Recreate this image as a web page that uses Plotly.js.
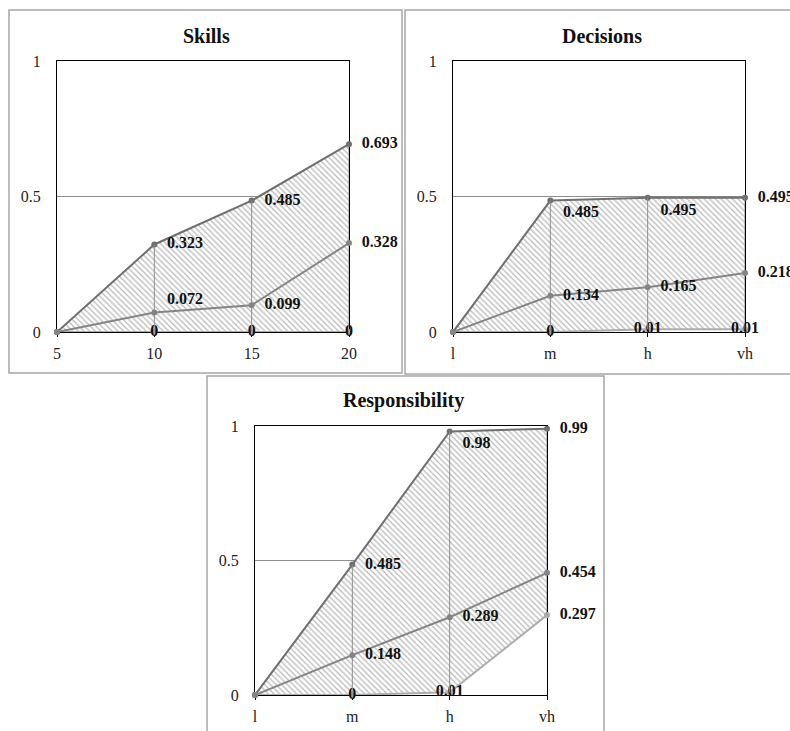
<!DOCTYPE html>
<html>
<head>
<meta charset="utf-8">
<script src="https://cdn.plot.ly/plotly-3.0.1.min.js"></script>
<style>html,body{margin:0;padding:0;background:#fff;}#chart{width:790px;height:731px;}</style>
</head>
<body>
<div id="chart"></div>
<script>
// ---- data ----
const skillsCats = ['5', '10', '15', '20'];
const levelCats = ['l', 'm', 'h', 'vh'];
const skillsUpper = [0, 0.323, 0.485, 0.693];
const skillsMiddle = [0, 0.072, 0.099, 0.328];
const skillsLower = [0, 0, 0, 0];
const decisionsUpper = [0, 0.485, 0.495, 0.495];
const decisionsMiddle = [0, 0.134, 0.165, 0.218];
const decisionsLower = [0, 0, 0.01, 0.01];
const respUpper = [0, 0.485, 0.98, 0.99];
const respMiddle = [0, 0.148, 0.289, 0.454];
const respLower = [0, 0, 0.01, 0.297];
const yTickVals = [0, 0.5, 1];
const yTickText = ['0', '0.5', '1'];
const panelTitles = ['Skills', 'Decisions', 'Responsibility'];

// ---- styles ----
const W = 790, H = 731;
const FONT = '"Liberation Serif", "Times New Roman", serif';
const C_UP = '#6f6f6f', C_MID = '#858585', C_LOW = '#adadad', C_DROP = '#8e8e8e';

const panels = [
  {cats: skillsCats, up: skillsUpper, mid: skillsMiddle, low: skillsLower, xa: 'x', ya: 'y',
   posUp: ['', 'middle right', 'middle right', 'middle right'],
   posMid: ['', 'top right', 'middle right', 'middle right'],
   posLow: ['', 'middle center', 'middle center', 'middle center'],
   plot: [57, 349, 61, 332], title: [206, 36], box: [9, 402, 10, 373]},
  {cats: levelCats, up: decisionsUpper, mid: decisionsMiddle, low: decisionsLower, xa: 'x2', ya: 'y2',
   posUp: ['', 'bottom right', 'bottom right', 'middle right'],
   posMid: ['', 'middle right', 'middle right', 'middle right'],
   posLow: ['', 'middle center', 'middle center', 'middle center'],
   plot: [453, 745, 61, 332], title: [602, 36], box: [405, 795, 10, 374]},
  {cats: levelCats, up: respUpper, mid: respMiddle, low: respLower, xa: 'x3', ya: 'y3',
   posUp: ['', 'middle right', 'bottom right', 'middle right'],
   posMid: ['', 'middle right', 'middle right', 'middle right'],
   posLow: ['', 'middle center', 'middle center', 'middle right'],
   plot: [255, 547, 426, 695], title: [404, 400], box: [207, 604, 376, 740]}
];

// labels: first point unlabeled; right-placed labels get a small leading gap
function labels(vals, pos) {
  return vals.map((v, i) => {
    if (i === 0) return '';
    const gap = /right/.test(pos[i]) ? '\u00a0\u00a0' : '';
    return gap + String(v);
  });
}
const textfont = {family: FONT, size: 16, color: '#111', weight: 'bold'};

const traces = [];
panels.forEach(p => {
  const base = {type: 'scatter', mode: 'lines+markers+text', xaxis: p.xa, yaxis: p.ya,
    cliponaxis: false, hoverinfo: 'skip', showlegend: false, textfont: textfont};
  traces.push(Object.assign({}, base, {
    x: p.cats, y: p.low, text: labels(p.low, p.posLow), textposition: p.posLow,
    line: {color: C_LOW, width: 2}, marker: {color: C_LOW, size: 6}}));
  traces.push(Object.assign({}, base, {
    x: p.cats, y: p.up, text: labels(p.up, p.posUp), textposition: p.posUp,
    line: {color: C_UP, width: 2}, marker: {color: C_UP, size: 6},
    fill: 'tonexty', fillcolor: 'white',
    fillpattern: {shape: '\\', bgcolor: 'white', fgcolor: '#b8b8b8', size: 4, solidity: 0.3}}));
  // high-low lines from lowest to highest series
  const dx = [], dy = [];
  p.cats.forEach((c, i) => { dx.push(c, c, null); dy.push(p.low[i], p.up[i], null); });
  traces.push({type: 'scatter', mode: 'lines', x: dx, y: dy, xaxis: p.xa, yaxis: p.ya,
    line: {color: C_DROP, width: 1}, hoverinfo: 'skip', showlegend: false, cliponaxis: false,
    connectgaps: false});
  traces.push(Object.assign({}, base, {
    x: p.cats, y: p.mid, text: labels(p.mid, p.posMid), textposition: p.posMid,
    line: {color: C_MID, width: 2}, marker: {color: C_MID, size: 6}}));
});

const layout = {
  width: W, height: H, margin: {l: 0, r: 0, t: 0, b: 0},
  paper_bgcolor: 'white', plot_bgcolor: 'white', showlegend: false,
  font: {family: FONT, size: 16, color: '#222'},
  shapes: [], annotations: []
};

panels.forEach((p, k) => {
  const sfx = k === 0 ? '' : String(k + 1);
  layout['xaxis' + sfx] = {
    type: 'category', categoryorder: 'array', categoryarray: p.cats, range: [0, p.cats.length - 1],
    domain: [p.plot[0] / W, p.plot[1] / W], anchor: 'y' + sfx,
    showline: true, mirror: true, linecolor: '#000', linewidth: 1,
    ticks: 'outside', ticklen: 4, tickcolor: '#000', ticklabelstandoff: 3,
    showgrid: false, zeroline: false, layer: 'below traces',
    tickfont: {family: FONT, size: 16, color: '#222'}, fixedrange: true
  };
  layout['yaxis' + sfx] = {
    range: [0, 1], domain: [1 - p.plot[3] / H, 1 - p.plot[2] / H], anchor: 'x' + sfx,
    tickvals: yTickVals, ticktext: yTickText,
    showline: true, mirror: true, linecolor: '#000', linewidth: 1,
    ticks: '', ticklabelstandoff: 12,
    showgrid: true, gridcolor: '#8e8e8e', gridwidth: 1, zeroline: false, layer: 'below traces',
    tickfont: {family: FONT, size: 16, color: '#222'}, fixedrange: true
  };
  layout.shapes.push({type: 'rect', xref: 'paper', yref: 'paper', layer: 'below',
    x0: p.box[0] / W, x1: p.box[1] / W, y0: 1 - p.box[3] / H, y1: 1 - p.box[2] / H,
    line: {color: '#a6a6a6', width: 1.5}, fillcolor: 'rgba(0,0,0,0)'});
  layout.annotations.push({xref: 'paper', yref: 'paper', x: p.title[0] / W, y: 1 - p.title[1] / H,
    xanchor: 'center', yanchor: 'middle', showarrow: false, text: panelTitles[k],
    font: {family: FONT, size: 20, color: '#111', weight: 'bold'}});
});

Plotly.newPlot('chart', traces, layout, {staticPlot: true, displayModeBar: false});
</script>
</body>
</html>
